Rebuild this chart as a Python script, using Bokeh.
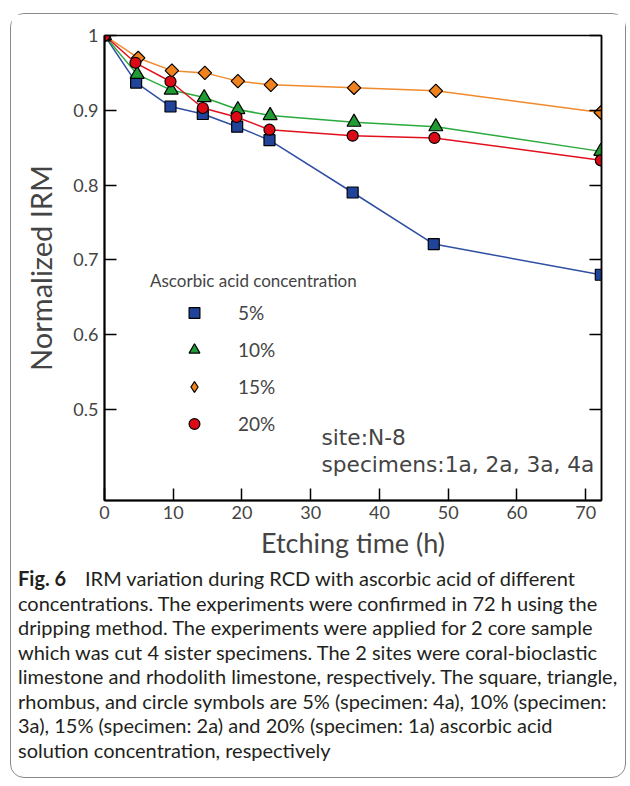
import math
from bokeh.plotting import figure
from bokeh.models import (Range1d, LinearAxis, FixedTicker, Legend, LegendItem,
                          Label, Div)
from bokeh.layouts import column
from bokeh.embed import file_html
from bokeh.resources import INLINE

# ---- data ----
t_5 = [0, 4.6, 9.6, 14.3, 19.3, 24.0, 36.1, 47.9, 72.2]
irm_5 = [1.0, 0.937, 0.905, 0.895, 0.878, 0.860, 0.790, 0.721, 0.680]

t_10 = [0, 4.75, 9.7, 14.5, 19.4, 24.1, 36.3, 48.2, 72.2]
irm_10 = [1.0, 0.948, 0.927, 0.917, 0.901, 0.893, 0.884, 0.878, 0.845]

t_15 = [0, 4.9, 9.8, 14.6, 19.4, 24.2, 36.3, 48.2, 72.2]
irm_15 = [1.0, 0.970, 0.953, 0.950, 0.939, 0.934, 0.930, 0.926, 0.897]

t_20 = [0, 4.5, 9.6, 14.3, 19.2, 24.0, 36.1, 48.0, 72.2]
irm_20 = [1.0, 0.9635, 0.9385, 0.903, 0.891, 0.874, 0.866, 0.863, 0.833]

series_labels = ["5%", "10%", "15%", "20%"]
x_ticks = [0, 10, 20, 30, 40, 50, 60, 70]
y_ticks = [0.5, 0.6, 0.7, 0.8, 0.9, 1.0]

caption_bold = "Fig. 6"
caption_lines = [
    "IRM variation during RCD with ascorbic acid of different",
    "concentrations. The experiments were confirmed in 72 h using the",
    "dripping method. The experiments were applied for 2 core sample",
    "which was cut 4 sister specimens. The 2 sites were coral-bioclastic",
    "limestone and rhodolith limestone, respectively. The square, triangle,",
    "rhombus, and circle symbols are 5% (specimen: 4a), 10% (specimen:",
    "3a), 15% (specimen: 2a) and 20% (specimen: 1a) ascorbic acid",
    "solution concentration, respectively",
]

FONT = "Lato"

p = figure(width=614, height=550, output_backend="svg", toolbar_location=None,
           x_range=Range1d(0, 72.3), y_range=Range1d(0.378, 1.0),
           min_border_left=93, min_border_right=24, min_border_top=21,
           min_border_bottom=64, outline_line_color="black",
           outline_line_width=1.5, border_fill_color="white",
           background_fill_color="white", margin=0)
p.xgrid.visible = False
p.ygrid.visible = False

# x axis
xa = p.xaxis[0]
xa.ticker = FixedTicker(ticks=x_ticks)
xa.axis_line_width = 2
xa.major_tick_in = 12
xa.major_tick_out = 0
xa.minor_tick_in = 0
xa.minor_tick_out = 0
xa.major_tick_line_width = 1.5
xa.major_label_text_font = FONT
xa.major_label_text_font_size = "18px"
xa.major_label_standoff = 5
xa.axis_label = "Etching time (h)"
xa.axis_label_text_font = FONT
xa.axis_label_text_font_size = "27px"
xa.axis_label_text_font_style = "normal"
xa.axis_label_standoff = 4

# y axis
ya = p.yaxis[0]
ya.ticker = FixedTicker(ticks=y_ticks)
ya.major_label_overrides = {1: "1"}
ya.axis_line_width = 2
ya.major_tick_in = 12
ya.major_tick_out = 0
ya.minor_tick_in = 0
ya.minor_tick_out = 0
ya.major_tick_line_width = 1.5
ya.major_label_text_font = FONT
ya.major_label_text_font_size = "18px"
ya.major_label_standoff = 6
ya.axis_label = "Normalized IRM"
ya.axis_label_text_font = FONT
ya.axis_label_text_font_size = "29px"
ya.axis_label_text_font_style = "normal"
ya.axis_label_standoff = 12

# right axis (ticks only, no labels)
ra = LinearAxis(ticker=FixedTicker(ticks=y_ticks), major_label_text_font_size="1px",
                major_label_text_color=None,
                major_tick_in=12, major_tick_out=0, minor_tick_in=0, minor_tick_out=0,
                axis_line_width=1.5, major_tick_line_width=1.5, major_label_standoff=0)
p.add_layout(ra, "right")

# lines
p.line(t_5, irm_5, line_color="#2f4fa3", line_width=1.5)
p.line(t_10, irm_10, line_color="#2aaa3c", line_width=1.5)
p.line(t_15, irm_15, line_color="#f08a2c", line_width=1.5)
p.line(t_20, irm_20, line_color="#e2101e", line_width=1.5)

# markers
r5 = p.scatter(t_5, irm_5, marker="square", size=11, fill_color="#21449b",
               line_color="black", line_width=1.2)
r10 = p.scatter(t_10, irm_10, marker="triangle", size=14, fill_color="#1f9c34",
                line_color="black", line_width=1.2)
r15 = p.scatter(t_15, irm_15, marker="square", angle=math.pi / 4, size=9.5,
                fill_color="#f0821e", line_color="black", line_width=1.2)
r20 = p.scatter(t_20, irm_20, marker="circle", size=11, fill_color="#dc0a14",
                line_color="black", line_width=1.2)
# legend-only glyph for the rhombus symbol
r15_leg = p.scatter(t_15, irm_15, marker="diamond", size=14, fill_color="#f0821e",
                    line_color="black", line_width=1.2, visible=False)

legend = Legend(items=[LegendItem(label=series_labels[0], renderers=[r5]),
                       LegendItem(label=series_labels[1], renderers=[r10]),
                       LegendItem(label=series_labels[2], renderers=[r15_leg]),
                       LegendItem(label=series_labels[3], renderers=[r20])],
                location=(46, 63), title="Ascorbic acid concentration",
                title_text_font=FONT, title_text_font_size="17px",
                title_text_font_style="normal", title_standoff=8,
                label_text_font=FONT, label_text_font_size="19px",
                glyph_width=88, glyph_height=27, spacing=10, padding=0, margin=0,
                label_standoff=0, border_line_color=None,
                background_fill_alpha=0, click_policy="none")
p.add_layout(legend)

# annotation text
p.add_layout(Label(x=217, y=63, x_units="screen", y_units="screen", text="site:N-8",
                   text_font="DejaVu Sans", text_font_size="21.7px",
                   text_baseline="middle"))
p.add_layout(Label(x=217, y=36, x_units="screen", y_units="screen",
                   text="specimens:1a, 2a, 3a, 4a",
                   text_font="DejaVu Sans", text_font_size="21.7px",
                   text_baseline="middle"))

# caption
cap_html = ('<div style="padding:2px 0 0 7px; font-family:Lato; font-size:20px; '
            'line-height:24.5px; color:#231f20; white-space:nowrap;">'
            '<b style="display:inline-block; width:67px;">' + caption_bold + '</b>'
            + "<br>".join(caption_lines) + '</div>')
div = Div(text=cap_html, width=614, height=213, margin=0)

layout = column(p, div, margin=(13, 0, 0, 10), spacing=0,
                styles={"border": "1.5px solid #8a8a8a", "border-radius": "14px"})

open("out.html", "w").write(file_html(layout, INLINE))
